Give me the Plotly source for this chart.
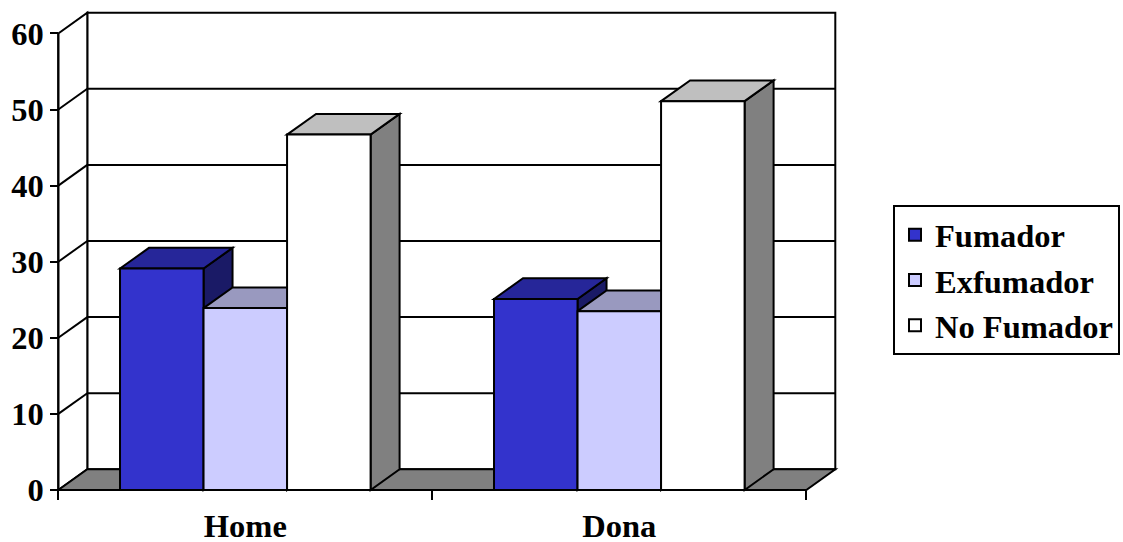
import plotly.graph_objects as go

# ---- data ----
categories = ["Home", "Dona"]
series_names = ["Fumador", "Exfumador", "No Fumador"]
fumador = [29.1, 25.1]
exfumador = [23.9, 23.5]
no_fumador = [46.7, 51.1]
y_ticks = [0, 10, 20, 30, 40, 50, 60]

# ---- style ----
front_colors = ["#3333CC", "#CCCCFF", "#FFFFFF"]
top_colors = ["#262699", "#9999BF", "#BFBFBF"]
side_colors = ["#1A1A66", "#666680", "#808080"]
FONT = dict(family="Liberation Serif, Times New Roman, serif", size=32.5, color="black", weight="bold")
LW = 2
BARGAP = 0.33

# pixel geometry of the 3D frame
W, H = 1123, 542
ml, mr, mt, mb = 36, 279, 10, 49
px_per_cat = 374.0
px_per_unit = 7.61
zero_px_y = 490.0
front_left_px = 58.3
depth_px_x, depth_px_y = 29.0, 20.7

plot_w = W - ml - mr
plot_h = H - mt - mb
x_min = -0.5 - (front_left_px - ml) / px_per_cat
x_max = x_min + plot_w / px_per_cat
y_min = -((H - mb) - zero_px_y) / px_per_unit
y_max = y_min + plot_h / px_per_unit
DX = depth_px_x / px_per_cat
DY = depth_px_y / px_per_unit

x_pos = list(range(len(categories)))
series = [fumador, exfumador, no_fumador]
ymax_axis = y_ticks[-1]
xl, xr = -0.5, len(categories) - 0.5

shapes = []


def poly(pts, fill, width=LW):
    d = "M " + " L ".join(f"{x},{y}" for x, y in pts) + " Z"
    return dict(type="path", path=d, xref="x", yref="y", fillcolor=fill,
                line=dict(color="black", width=width), layer="below")


def seg(x0, y0, x1, y1):
    return dict(type="line", x0=x0, y0=y0, x1=x1, y1=y1, xref="x", yref="y",
                line=dict(color="black", width=LW), layer="below")


# back wall
shapes.append(poly([(xl + DX, DY), (xl + DX, ymax_axis + DY), (xr + DX, ymax_axis + DY), (xr + DX, DY)], "white"))
# left wall
shapes.append(poly([(xl, 0), (xl, ymax_axis), (xl + DX, ymax_axis + DY), (xl + DX, DY)], "white"))
# gridlines on walls
for v in y_ticks[1:-1]:
    shapes.append(seg(xl, v, xl + DX, v + DY))
    shapes.append(seg(xl + DX, v + DY, xr + DX, v + DY))
# floor
shapes.append(poly([(xl, 0), (xl + DX, DY), (xr + DX, DY), (xr, 0)], "#808080"))

# bar tops and sides
group_w = 1 - BARGAP
bar_w = group_w / len(series)
for c in x_pos:
    for i, vals in enumerate(series):
        v = vals[c]
        L = c - group_w / 2 + i * bar_w
        R = L + bar_w
        shapes.append(poly([(R, 0), (R, v), (R + DX, v + DY), (R + DX, DY)], side_colors[i]))
        shapes.append(poly([(L, v), (L + DX, v + DY), (R + DX, v + DY), (R, v)], top_colors[i]))

# front-left value axis line
shapes.append(seg(xl, 0, xl, ymax_axis))

fig = go.Figure()
for i, (name, vals) in enumerate(zip(series_names, series)):
    fig.add_trace(go.Bar(
        x=x_pos, y=vals, name=name, width=bar_w,
        offset=-group_w / 2 + i * bar_w,
        marker=dict(color=front_colors[i], line=dict(color="black", width=LW)),
        legendgroup=name,
    ))

fig.update_layout(
    width=W, height=H,
    margin=dict(l=ml, r=mr, t=mt, b=mb, autoexpand=False),
    paper_bgcolor="white", plot_bgcolor="white",
    barmode="overlay",
    shapes=shapes,
    font=FONT,
    showlegend=True,
    legend=dict(
        x=(893 - ml) / plot_w, y=((H - mb) - 205) / plot_h,
        xanchor="left", yanchor="top",
        bordercolor="black", borderwidth=LW, bgcolor="white",
        font=FONT, tracegroupgap=12, traceorder="normal",
    ),
    xaxis=dict(
        range=[x_min, x_max], tickvals=x_pos, ticktext=categories,
        ticks="", showgrid=False, zeroline=False, showline=False,
        anchor="free", position=(0 - y_min) / (y_max - y_min),
        tickfont=FONT, ticklabelstandoff=13,
        minor=dict(tick0=-0.5, dtick=1, ticks="outside", ticklen=9,
                   tickwidth=LW, tickcolor="black", showgrid=False),
    ),
    yaxis=dict(
        range=[y_min, y_max], tickvals=y_ticks,
        ticks="outside", ticklen=8, tickwidth=LW, tickcolor="black",
        showgrid=False, zeroline=False, showline=False,
        anchor="free", position=(xl - x_min) / (x_max - x_min),
        tickfont=FONT,
    ),
)

fig.write_html("out.html")
